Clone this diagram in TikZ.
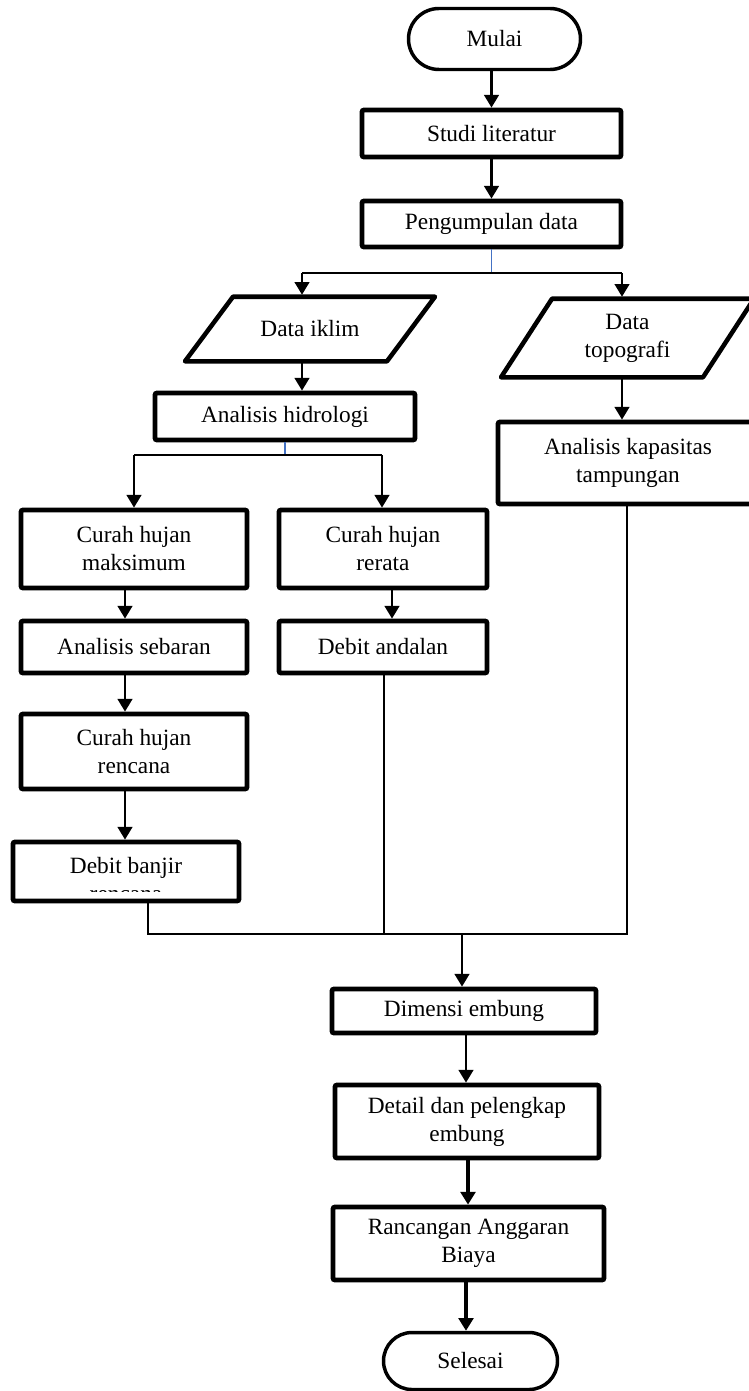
\documentclass[tikz,border=0pt]{standalone}
\usepackage{fontspec}
\setmainfont{Liberation Serif}
\usetikzlibrary{arrows.meta,shapes.misc,calc}
\definecolor{jblue}{RGB}{68,114,196}
\begin{document}
\begin{tikzpicture}[x=0.75pt,y=-0.75pt,
  every node/.style={font=\fontsize{17.5}{21}\selectfont, inner sep=0pt},
  box/.style={draw, line width=3.6pt, rounded corners=1.5pt, align=center},
  term/.style={draw, rounded rectangle, line width=2.6pt},
  para/.style={align=center, minimum width=151.5pt},
  pbox/.style={line width=3.4pt, line join=round},
  arr/.style={line width=1.6pt, -{Triangle[length=9.5pt,width=11pt]}},
  tarr/.style={line width=3pt, -{Triangle[length=9.5pt,width=11pt]}},
  link/.style={line width=1.1pt},
  jlink/.style={line width=1.1pt, draw=jblue},
]
\useasboundingbox (0,0) rectangle (749,1391);
\clip (0,0) rectangle (749,1391);

% terminals and boxes
\node[term, minimum width=129pt, minimum height=45.75pt] (mulai) at (494.5,39) {Mulai};
\node[box, minimum width=194.25pt, minimum height=35.25pt] (studi) at (491.5,133.5) {Studi literatur};
\node[box, minimum width=194.25pt, minimum height=34.5pt] (peng) at (491.5,224) {Pengumpulan data};

\node[para, minimum height=51pt] (diklim) at (310,329) {Data iklim};
\draw[pbox] ($(diklim.north)+(-101+24,2)$) -- ($(diklim.north)+(101+24,2)$)
  -- ($(diklim.south)+(101-24,-2)$) -- ($(diklim.south)+(-101-24,-2)$) -- cycle;

\node[para, minimum height=61.5pt] (dtopo) at (627.5,338) {Data\\topografi};
\draw[pbox] ($(dtopo.north)+(-101+25.5,2)$) -- ($(dtopo.north)+(101+25.5,2)$)
  -- ($(dtopo.south)+(101-25.5,-2)$) -- ($(dtopo.south)+(-101-25.5,-2)$) -- cycle;

\node[box, minimum width=195pt, minimum height=35.25pt] (hidro) at (285,416.5) {Analisis hidrologi};
\node[box, minimum width=195pt, minimum height=61.5pt] (kapas) at (628,463) {Analisis kapasitas\\tampungan};

\node[box, minimum width=169.5pt, minimum height=58.5pt] (cmax) at (134,549) {Curah hujan\\maksimum};
\node[box, minimum width=156pt, minimum height=58.5pt] (crer) at (383,549) {Curah hujan\\rerata};
\node[box, minimum width=169.5pt, minimum height=39pt] (sebaran) at (134,647) {Analisis sebaran};
\node[box, minimum width=156pt, minimum height=39pt] (andalan) at (383,647) {Debit andalan};
\node[box, minimum width=169.5pt, minimum height=56.25pt] (rencana) at (134,751.5) {Curah hujan\\rencana};
\node[box, minimum width=169.5pt, minimum height=44.25pt] (banjir) at (126,871.5) {};
\begin{scope}
  \clip (13,842) rectangle (239,891);
  \node[anchor=base] (banjirt1) at (126,873) {Debit banjir};
  \node[anchor=base] (banjirt2) at (126,901) {rencana};
\end{scope}

\node[box, minimum width=198pt, minimum height=33pt] (dimensi) at (464,1011) {Dimensi embung};
\node[box, minimum width=198pt, minimum height=54.75pt] (detail) at (467,1121.5) {Detail dan pelengkap\\embung};
\node[box, minimum width=203.25pt, minimum height=54.75pt] (rab) at (468.5,1243.5) {Rancangan Anggaran\\Biaya};
\node[term, minimum width=130.5pt, minimum height=42.75pt] (selesai) at (470.5,1361) {Selesai};

% connectors
\draw[arr] (studi.north |- mulai.south) -- (studi.north);
\draw[arr] (studi.south) -- (peng.north);

\coordinate (j1) at (491.5,273);
\coordinate (j1l) at (302,273);
\coordinate (j1r) at (622,273);
\draw[jlink] (peng.south) -- (j1);
\draw[link] (j1l) -- (j1r);
\draw[arr] (j1l) -- (j1l |- diklim.north);
\draw[arr] (j1r) -- (j1r |- dtopo.north);
\draw[arr] (j1l |- diklim.south) -- (j1l |- hidro.north);
\draw[arr] (j1r |- dtopo.south) -- (j1r |- kapas.north);

\coordinate (j2) at (285,455);
\coordinate (j2l) at (134,455);
\coordinate (j2r) at (382,455);
\draw[jlink] (hidro.south) -- (j2);
\draw[link] (j2l) -- (j2r);
\draw[arr] (j2l) -- (j2l |- cmax.north);
\draw[arr] (j2r) -- (j2r |- crer.north);

\coordinate (cl) at (125,0);
\coordinate (cr) at (392,0);
\draw[arr] (cl |- cmax.south) -- (cl |- sebaran.north);
\draw[arr] (cr |- crer.south) -- (cr |- andalan.north);
\draw[arr] (cl |- sebaran.south) -- (cl |- rencana.north);
\draw[arr] (cl |- rencana.south) -- (cl |- banjir.north);

\coordinate (m) at (462,934);
\coordinate (m1) at (148,934);
\coordinate (m2) at (384,934);
\coordinate (m3) at (627,934);
\draw[link] (m1 |- banjir.south) -- (m1) -- (m3) -- (m3 |- kapas.south);
\draw[link] (m2 |- andalan.south) -- (m2);
\draw[arr] (m) -- (m |- dimensi.north);

\coordinate (d1) at (466,0);
\draw[arr] (d1 |- dimensi.south) -- (d1 |- detail.north);
\coordinate (d2) at (468,0);
\draw[tarr] (d2 |- detail.south) -- (d2 |- rab.north);
\coordinate (d3) at (466,0);
\draw[tarr] (d3 |- rab.south) -- (d3 |- selesai.north);
\end{tikzpicture}
\end{document}
